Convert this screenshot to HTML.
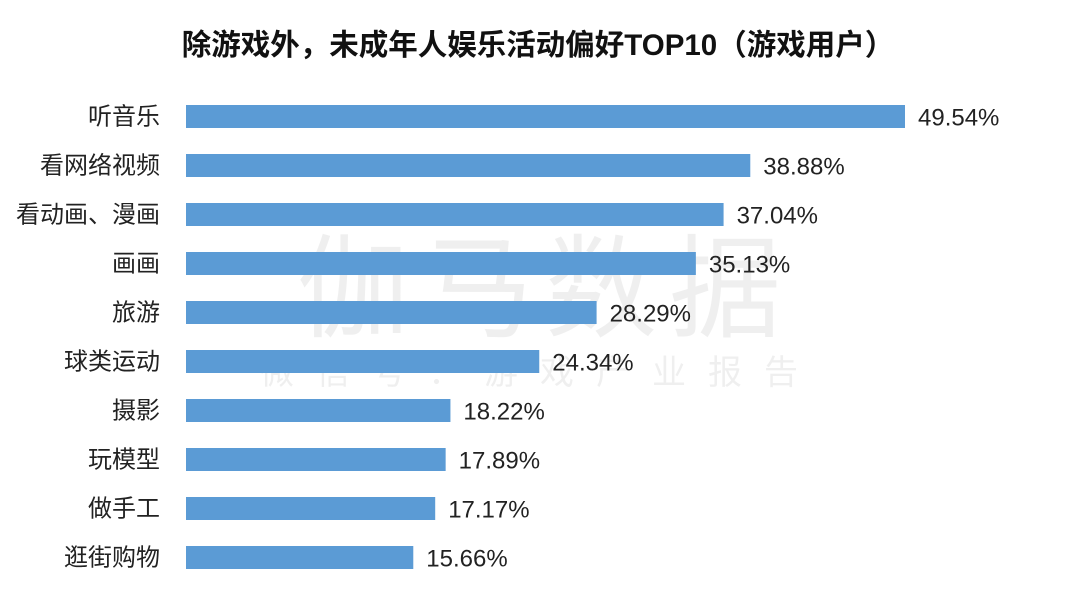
<!DOCTYPE html>
<html><head><meta charset="utf-8"><style>
body{margin:0;background:#fff;width:1080px;height:606px;overflow:hidden;font-family:"Liberation Sans","Noto Sans CJK SC",sans-serif}
</style></head><body>
<svg id="chart" width="1080" height="606" xmlns="http://www.w3.org/2000/svg">
<text x="538" y="55" text-anchor="middle" font-size="29.5" font-weight="bold" fill="#111" font-family="Liberation Sans, Noto Sans CJK SC, sans-serif">除游戏外，未成年人娱乐活动偏好TOP10（游戏用户）</text>
<text x="545" y="328" text-anchor="middle" font-size="112" fill="#000" opacity="0.06" letter-spacing="12" font-family="Noto Sans CJK SC, sans-serif">伽马数据</text>
<text x="540" y="384" text-anchor="middle" font-size="34" fill="#000" opacity="0.06" letter-spacing="22" font-family="Noto Sans CJK SC, sans-serif">微信号：游戏产业报告</text>
<g id="bars"></g>
</svg>
<script>
const categories=["听音乐","看网络视频","看动画、漫画","画画","旅游","球类运动","摄影","玩模型","做手工","逛街购物"];
const values=[49.54,38.88,37.04,35.13,28.29,24.34,18.22,17.89,17.17,15.66];
const labels=["49.54%","38.88%","37.04%","35.13%","28.29%","24.34%","18.22%","17.89%","17.17%","15.66%"];
const ns="http://www.w3.org/2000/svg";
const x0=186, scale=719/49.54;
const xs=v=>v*scale;
const yc=i=>116.5+i*49;
const g=document.getElementById('bars');
categories.forEach((c,i)=>{
  const r=document.createElementNS(ns,'rect');
  
  
  r.setAttribute('x',x0);r.setAttribute('y',yc(i)-11.5);
  r.setAttribute('width',xs(values[i]));r.setAttribute('height',23);
  r.setAttribute('fill','#5b9bd5');g.appendChild(r);
  const t=document.createElementNS(ns,'text');
  
  
  t.setAttribute('x',160);t.setAttribute('y',yc(i)+8);
  t.setAttribute('text-anchor','end');t.setAttribute('font-size','24');t.setAttribute('fill','#222');
  t.setAttribute('font-family','Liberation Sans, Noto Sans CJK SC, sans-serif');
  t.textContent=c;g.appendChild(t);
  const v=document.createElementNS(ns,'text');
  
  
  v.setAttribute('x',x0+xs(values[i])+13);v.setAttribute('y',yc(i)+9);
  v.setAttribute('font-size','24');v.setAttribute('fill','#222');
  v.setAttribute('font-family','Liberation Sans, sans-serif');
  v.textContent=labels[i];g.appendChild(v);
});
</script>
</body></html>
